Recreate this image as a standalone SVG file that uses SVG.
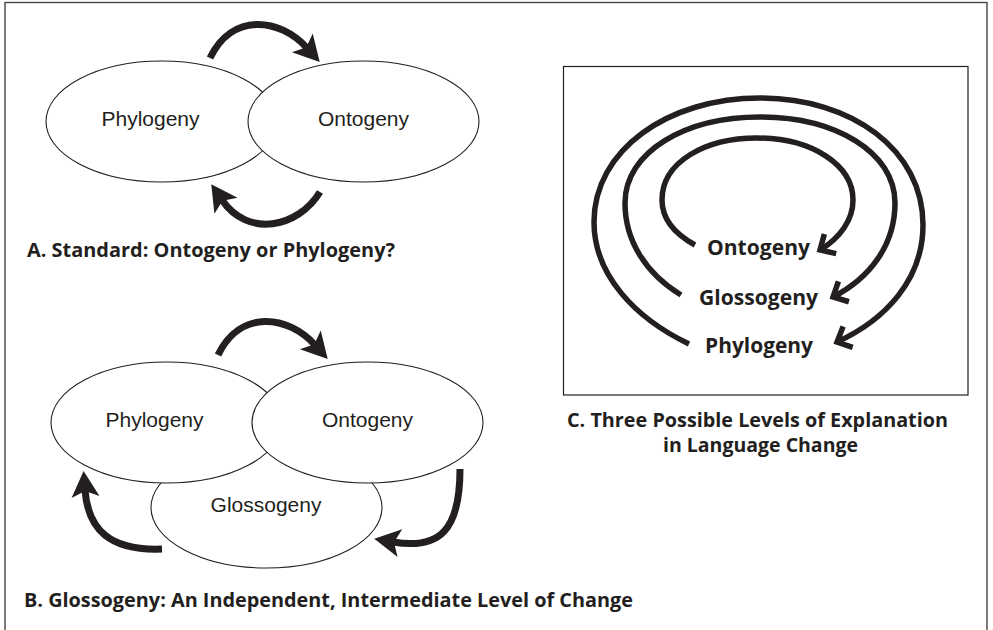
<svg xmlns="http://www.w3.org/2000/svg" width="993" height="630" viewBox="0 0 993 630">
<style>
.node{fill:#fff;stroke:#231f20;stroke-width:1.1}
.nt{font-family:"Liberation Sans",Arial,sans-serif;font-size:21px;fill:#231f20;text-anchor:middle}
.bt{font-family:"Open Sans","Noto Sans",sans-serif;font-weight:700;fill:#231f20}
.arr{fill:none;stroke:#231f20;stroke-width:7}
.arc{fill:none;stroke:#231f20;stroke-width:5.5}
.frame{fill:none;stroke:#444;stroke-width:1.4}
</style>
<defs>
<marker id="head" markerUnits="userSpaceOnUse" orient="auto" overflow="visible" markerWidth="1" markerHeight="1">
<path d="M19,0 L-7,-14 L-1,0 L-7,14 Z" fill="#231f20"/>
</marker>
<marker id="chev" markerUnits="userSpaceOnUse" orient="auto" overflow="visible" markerWidth="1" markerHeight="1">
<path d="M-12,-11.5 L0,0 L-12,11.5" fill="none" stroke="#231f20" stroke-width="5.5" stroke-linejoin="miter" stroke-miterlimit="6"/>
</marker>
</defs>
<rect x="0" y="0" width="993" height="630" fill="#fff"/>
<rect class="frame" x="5" y="2.5" width="982" height="660"/>

<!-- Panel A -->
<g id="a-phylogeny">
<ellipse class="node" cx="161.5" cy="121.5" rx="115.5" ry="60.5"/>
<text class="nt" x="150.5" y="126">Phylogeny</text>
</g>
<g id="a-ontogeny">
<ellipse class="node" cx="363.5" cy="121.5" rx="115.5" ry="60.5"/>
<text class="nt" x="363.5" y="126">Ontogeny</text>
</g>
<text id="label-a" class="bt" x="27" y="257" font-size="20" textLength="368" lengthAdjust="spacingAndGlyphs">A. Standard: Ontogeny or Phylogeny?</text>

<!-- Panel B -->
<g id="b-glossogeny">
<ellipse class="node" cx="266.5" cy="507.5" rx="115.5" ry="60.5"/>
<text class="nt" x="266" y="512">Glossogeny</text>
</g>
<g id="b-phylogeny">
<ellipse class="node" cx="166.5" cy="422.5" rx="115.5" ry="60.5"/>
<text class="nt" x="154.5" y="427">Phylogeny</text>
</g>
<g id="b-ontogeny">
<ellipse class="node" cx="367.5" cy="422.5" rx="115.5" ry="60.5"/>
<text class="nt" x="367.5" y="427">Ontogeny</text>
</g>
<text id="label-b" class="bt" x="24" y="607" font-size="20" textLength="609" lengthAdjust="spacingAndGlyphs">B. Glossogeny: An Independent, Intermediate Level of Change</text>

<!-- Panel C -->
<g id="c-box">
<rect x="563.5" y="66.5" width="404.5" height="328.5" fill="none" stroke="#231f20" stroke-width="1.2"/>
</g>
<g id="c-ontogeny"><text class="bt" x="758.5" y="255" font-size="21.5" text-anchor="middle" textLength="103" lengthAdjust="spacingAndGlyphs">Ontogeny</text></g>
<g id="c-glossogeny"><text class="bt" x="758.5" y="305" font-size="21.5" text-anchor="middle" textLength="119" lengthAdjust="spacingAndGlyphs">Glossogeny</text></g>
<g id="c-phylogeny"><text class="bt" x="759" y="353" font-size="21.5" text-anchor="middle" textLength="108" lengthAdjust="spacingAndGlyphs">Phylogeny</text></g>
<text id="label-c" class="bt" font-size="20" text-anchor="middle"><tspan x="757.5" y="427" textLength="381" lengthAdjust="spacingAndGlyphs">C. Three Possible Levels of Explanation</tspan><tspan x="760.5" y="452" textLength="195" lengthAdjust="spacingAndGlyphs">in Language Change</tspan></text>

<g id="connectors">
<path class="arr" d="M210,58 C232,12 280,18 307,48" marker-end="url(#head)"/>
<path class="arr" d="M320,192 C298,228 248,238 222,200" marker-end="url(#head)"/>
<path class="arr" d="M218,355 C240,309 288,315 315,345" marker-end="url(#head)"/>
<path class="arr" d="M460,469 C460,530 440,550 393,542" marker-end="url(#head)"/>
<path class="arr" d="M162,549 C110,551 88,530 85,490" marker-end="url(#head)"/>
<path class="arc" d="M695,245 C675,234 662,220 662,200 C662,162 705,138 757,138 C812,138 853,165 853,200 C853,220 840,238 820,250" marker-end="url(#chev)"/>
<path class="arc" d="M681,295 C645,273 625,240 625,203 C625,152 685,117 760,117 C835,117 895,152 895,203 C895,245 870,278 833,297" marker-end="url(#chev)"/>
<path class="arc" d="M689,344 C635,318 594,275 594,222 C594,150 668,98 760,98 C852,98 923,150 923,225 C923,280 885,320 837,342" marker-end="url(#chev)"/>
</g>
</svg>
